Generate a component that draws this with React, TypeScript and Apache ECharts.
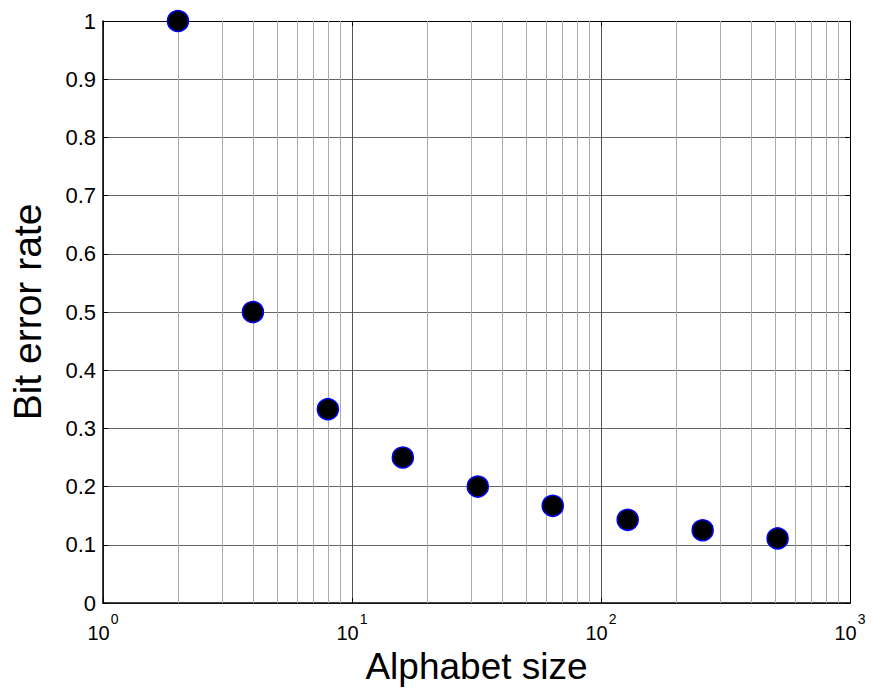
import React, { useEffect, useRef } from "react";
import * as echarts from "echarts";

// Alphabet size (log scale) vs. bit error rate
const alphabetSizes = [2, 4, 8, 16, 32, 64, 128, 256, 512];
const bitErrorRates = [1, 0.5, 0.333, 0.25, 0.2, 0.167, 0.143, 0.125, 0.111];

// Intermediate decade grid lines for the log axis
const minorGridValues = [
  2, 3, 4, 5, 6, 7, 8, 9,
  20, 30, 40, 50, 60, 70, 80, 90,
  200, 300, 400, 500, 600, 700, 800, 900,
];

const FONT = "'Liberation Sans', Arial, Helvetica, sans-serif";

export default function App() {
  const ref = useRef<HTMLDivElement>(null);

  useEffect(() => {
    if (!ref.current) return;
    const chart = echarts.init(ref.current, null, { renderer: "svg" });
    const data = alphabetSizes.map((x, i) => [x, bitErrorRates[i]]);

    chart.setOption({
      animation: false,
      backgroundColor: "#ffffff",
      grid: { left: 99, right: 22, top: 21, bottom: 89, containLabel: false },
      xAxis: [
        {
          type: "log",
          logBase: 10,
          min: 1,
          max: 1000,
          name: "Alphabet size",
          nameLocation: "middle",
          nameGap: 43,
          nameTextStyle: { fontFamily: FONT, fontSize: 37, color: "#000" },
          axisLine: { show: true, onZero: false, lineStyle: { color: "#000", width: 1.5 } },
          axisTick: { show: true, inside: true, length: 5, lineStyle: { color: "#000" } },
          splitLine: { show: true, lineStyle: { color: "#555", width: 1 } },
          axisLabel: {
            margin: 8,
            formatter: (v: number) => `{b|10}{s|${Math.round(Math.log10(v))}}`,
            rich: {
              b: { fontFamily: FONT, fontSize: 20, color: "#000", lineHeight: 32, verticalAlign: "bottom" },
              s: { fontFamily: FONT, fontSize: 14, color: "#000", lineHeight: 32, verticalAlign: "top", padding: [1, 0, 0, 1] },
            },
          },
        },
        {
          type: "log",
          logBase: 10,
          min: 1,
          max: 1000,
          position: "top",
          axisLine: { show: true, onZero: false, lineStyle: { color: "#000", width: 1 } },
          axisTick: { show: true, inside: true, length: 5, lineStyle: { color: "#000" } },
          axisLabel: { show: false },
          splitLine: { show: false },
        },
      ],
      yAxis: [
        {
          type: "value",
          min: 0,
          max: 1,
          interval: 0.1,
          name: "Bit error rate",
          nameLocation: "middle",
          nameRotate: 90,
          nameGap: 56,
          nameTextStyle: { fontFamily: FONT, fontSize: 39, color: "#000" },
          axisLine: { show: true, onZero: false, lineStyle: { color: "#000", width: 1.5 } },
          axisTick: { show: true, inside: true, length: 5, lineStyle: { color: "#000" } },
          splitLine: { show: true, lineStyle: { color: "#666", width: 1 } },
          axisLabel: { fontFamily: FONT, fontSize: 22, color: "#000", margin: 7 },
        },
        {
          type: "value",
          min: 0,
          max: 1,
          interval: 0.1,
          position: "right",
          axisLine: { show: true, onZero: false, lineStyle: { color: "#000", width: 1 } },
          axisTick: { show: true, inside: true, length: 5, lineStyle: { color: "#000" } },
          axisLabel: { show: false },
          splitLine: { show: false },
        },
      ],
      series: [
        {
          name: "grid",
          type: "scatter",
          xAxisIndex: 0,
          yAxisIndex: 0,
          data: [],
          z: 1,
          silent: true,
          markLine: {
            silent: true,
            symbol: ["none", "none"],
            label: { show: false },
            lineStyle: { color: "#aaaaaa", type: "solid", width: 1 },
            data: minorGridValues.map((v) => ({ xAxis: v })),
          },
        },
        {
          name: "BER",
          type: "scatter",
          xAxisIndex: 0,
          yAxisIndex: 0,
          data,
          z: 5,
          symbol: "circle",
          symbolSize: 21,
          itemStyle: { color: "#000", borderColor: "#0000ff", borderWidth: 1.5, opacity: 1 },
        },
      ],
    });

    return () => chart.dispose();
  }, []);

  return (
    <div
      ref={ref}
      style={{ position: "fixed", left: 0, top: 0, width: 872, height: 692, background: "#fff" }}
    />
  );
}
